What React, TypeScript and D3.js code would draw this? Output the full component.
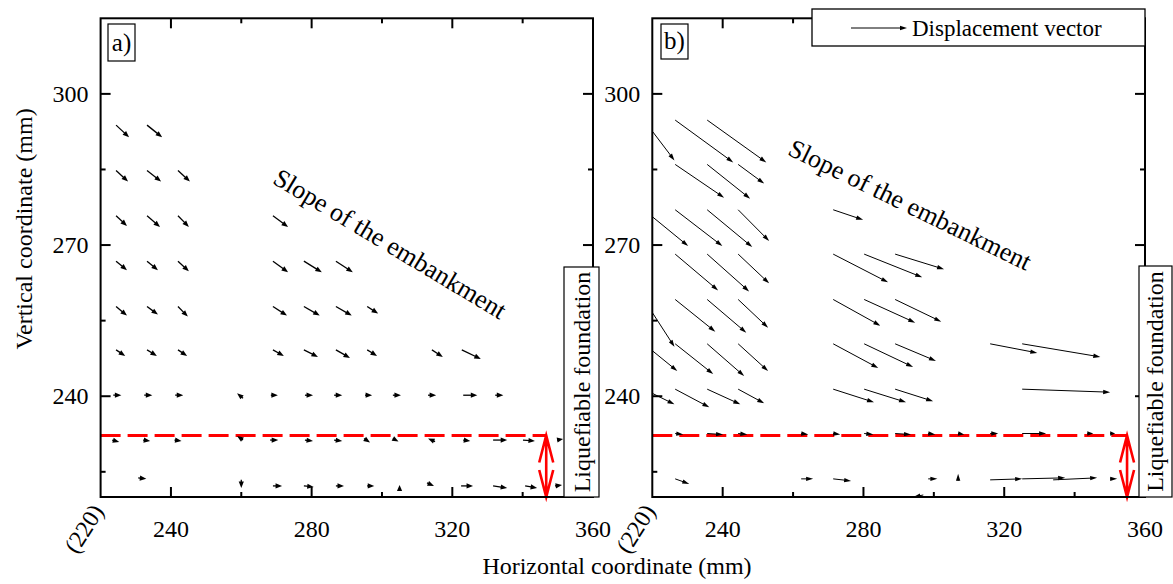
import React from "react";
import * as d3 from "d3";

type Vec = [number, number, number, number]; // tail x (mm), tail y (mm), dx (mm), dy (mm)

const X_DOMAIN: [number, number] = [220, 360];
const Y_DOMAIN: [number, number] = [220, 315];
const xMajorTicks = [240, 280, 320, 360];
const xMinorTicks = [260, 300, 340];
const yMajorTicks = [240, 270, 300];
const yMinorTicks = [225, 255, 285];
const foundationLevel = 232.2;

// Panel a) displacement vectors
const vectorsA: Vec[] = [
  [224.4, 293.8, 3.7, -2.4], [233.2, 293.8, 4.3, -2.4],
  [224.4, 284.8, 3.4, -2.2], [233.2, 284.8, 4.0, -2.2], [242.0, 284.8, 3.4, -2.2],
  [224.4, 275.8, 3.1, -2.0], [233.2, 275.8, 3.7, -2.2], [242.0, 275.8, 3.1, -2.2], [269.0, 275.8, 4.3, -2.2],
  [224.4, 266.8, 3.1, -1.8], [233.2, 266.8, 3.1, -1.8], [242.0, 266.8, 3.1, -2.0], [269.0, 266.8, 4.3, -2.2], [277.8, 266.8, 5.1, -2.2], [286.9, 266.8, 4.8, -2.2],
  [224.4, 257.8, 3.1, -1.8], [233.2, 257.8, 3.1, -1.6], [242.0, 257.8, 2.8, -2.0], [269.0, 257.8, 4.0, -1.8], [277.8, 257.8, 4.5, -1.8], [286.9, 257.8, 4.5, -1.8], [295.8, 257.8, 3.1, -1.4],
  [224.4, 249.2, 2.6, -1.2], [233.2, 249.2, 2.8, -1.2], [242.0, 249.2, 2.6, -1.2], [269.0, 249.2, 3.1, -1.2], [277.8, 249.2, 4.0, -1.4], [286.9, 249.2, 4.0, -1.6], [295.8, 249.2, 2.8, -1.2], [314.2, 249.2, 3.1, -1.4], [322.7, 249.2, 5.4, -1.8],
  [223.6, 240.2, 2.3, 0], [232.4, 240.2, 2.3, 0], [241.2, 240.2, 2.3, 0], [260.5, 239.6, -1.7, 1.0], [268.4, 240.2, 2.0, 0], [278.1, 240.2, 2.3, 0], [286.4, 240.2, 2.3, 0], [295.2, 240.2, 2.0, 0], [303.1, 240.2, 2.3, 0], [313.1, 240.2, 2.3, 0], [323.1, 240.2, 4.0, 0], [332.2, 240.2, 2.3, 0],
  [223.3, 231.3, 2.0, -0.4], [232.1, 231.3, 2.0, -0.2], [241.0, 231.3, 2.0, -0.2], [260.5, 231.3, -1.7, 0.8], [268.2, 231.3, 2.3, 0], [278.1, 231.3, 2.3, -0.2], [286.4, 231.3, 2.3, -0.2], [294.9, 231.6, 1.7, -0.8], [303.1, 231.6, 1.6, -0.6], [315.1, 231.0, -2.0, 0.6], [323.1, 231.3, 2.0, -0.2], [331.6, 231.3, 4.0, 0], [340.1, 231.3, 3.4, -0.2], [349.8, 231.3, 1.7, 0.2],
  [230.7, 223.8, 2.3, -0.2], [260.0, 223.4, 0, -1.6], [269.0, 222.2, 2.6, 0], [277.8, 222.2, 2.8, -0.2], [286.9, 222.2, 2.3, 0], [295.8, 222.2, 2.0, 0], [305.0, 221.2, 0, 1.2], [312.8, 222.8, 2.0, -0.6], [322.5, 222.2, 3.4, 0], [331.6, 222.2, 4.0, -0.4], [340.7, 222.2, 3.4, -0.4], [349.2, 222.2, 2.0, 0.2],
];

// Panel b) displacement vectors
const vectorsB: Vec[] = [
  [217.6, 294.8, 8.7, -8.0], [226.5, 294.8, 16.5, -8.4], [235.6, 294.8, 16.8, -8.4],
  [226.5, 286.0, 13.9, -6.6], [235.6, 286.0, 12.2, -6.8], [244.4, 286.0, 7.4, -3.8],
  [217.6, 277.0, 12.6, -7.2], [226.5, 277.0, 13.4, -7.2], [235.6, 277.0, 12.8, -7.4], [244.4, 277.0, 8.8, -6.2], [271.4, 277.0, 8.5, -2.0],
  [226.5, 268.2, 12.2, -7.2], [235.6, 268.2, 11.9, -7.4], [244.4, 268.2, 8.8, -5.8], [271.4, 268.2, 15.6, -5.6], [280.2, 268.2, 16.5, -4.6], [289.0, 268.2, 13.9, -3.0],
  [217.6, 259.2, 8.7, -9.4], [226.5, 259.2, 11.4, -6.4], [235.6, 259.2, 11.1, -6.6], [244.4, 259.2, 8.5, -5.6], [271.4, 259.2, 13.4, -5.2], [280.2, 259.2, 14.5, -4.6], [289.0, 259.2, 13.1, -4.4],
  [217.6, 250.4, 9.5, -5.4], [226.5, 250.4, 10.8, -6.0], [235.6, 250.4, 10.5, -6.4], [244.4, 250.4, 8.5, -5.4], [271.4, 250.4, 12.8, -4.8], [280.2, 250.4, 13.9, -4.6], [289.0, 250.4, 11.6, -3.4], [316.0, 250.4, 13.4, -1.8], [325.1, 250.4, 22.2, -2.6],
  [217.6, 241.4, 8.7, -3.0], [226.5, 241.4, 9.7, -3.6], [235.6, 241.4, 9.4, -3.0], [244.4, 241.4, 7.4, -2.8], [271.4, 241.4, 11.6, -2.6], [280.2, 241.4, 11.9, -2.6], [289.0, 241.4, 10.8, -2.4], [325.1, 241.4, 25.0, -0.6],
  [226.5, 232.6, 2.3, -0.2], [235.6, 232.6, 4.5, -0.2], [244.4, 232.6, 2.6, -0.2], [262.3, 232.6, 2.0, -0.2], [271.4, 232.6, 2.0, -0.2], [280.2, 232.6, 2.6, -0.2], [289.0, 232.6, 4.5, -0.2], [298.4, 232.6, 2.0, -0.2], [306.9, 232.6, 1.7, -0.2], [316.0, 232.6, 2.3, 0], [325.1, 232.6, 6.8, 0], [343.6, 232.6, 1.7, 0], [350.1, 232.6, 1.4, 0],
  [226.5, 223.6, 4.0, -1.0], [262.3, 223.6, 3.4, 0], [271.4, 223.6, 5.1, -0.4], [298.4, 223.6, 2.6, 0], [306.9, 223.2, 0, 1.4], [316.0, 223.4, 9.1, 0.2], [325.1, 223.6, 12.2, 0.2], [333.9, 223.4, 12.5, 0.4], [350.1, 223.6, 2.0, 0], [297.0, 220.4, -2.8, -0.4],
];

const FONT = "'Liberation Serif', 'Times New Roman', Times, serif";
const TOP = 18.3;
const BOTTOM = 497;

function arrowParts(x0: number, y0: number, x1: number, y1: number, headLen: number, headHalf: number) {
  const dx = x1 - x0;
  const dy = y1 - y0;
  const L = Math.hypot(dx, dy) || 1;
  const ux = dx / L;
  const uy = dy / L;
  const hl = Math.min(headLen, L);
  const bx = x1 - ux * hl;
  const by = y1 - uy * hl;
  const nx = -uy;
  const ny = ux;
  const head = `M${x1},${y1}L${bx + nx * headHalf},${by + ny * headHalf}L${bx - nx * headHalf},${by - ny * headHalf}Z`;
  return { lineEnd: [bx + ux * hl * 0.3, by + uy * hl * 0.3], head };
}

type PanelProps = {
  id: string;
  left: number;
  right: number;
  vectors: Vec[];
  label: string;
  labelBox: [number, number, number, number];
  arrowMm: number;
  foundationBox: [number, number, number, number];
  slope: { cx: number; cy: number; angle: number };
  headLen: number;
  headHalf: number;
  stroke: number;
};

function Panel(p: PanelProps) {
  const x = d3.scaleLinear().domain(X_DOMAIN).range([p.left, p.right]);
  const y = d3.scaleLinear().domain(Y_DOMAIN).range([BOTTOM, TOP]);
  const yF = y(foundationLevel);
  const ax = x(p.arrowMm);
  const clipId = `clip-${p.id}`;
  const [bx, by, bw, bh] = p.labelBox;
  const [fx, fy, fw, fh] = p.foundationBox;
  return (
    <g>
      <defs>
        <clipPath id={clipId}>
          <rect x={p.left} y={TOP} width={p.right - p.left} height={BOTTOM - TOP} />
        </clipPath>
      </defs>
      {/* red dashed foundation line */}
      <line x1={p.left} x2={ax} y1={yF} y2={yF} stroke="#ff0000" strokeWidth={3} strokeDasharray="20,7" />
      {/* vectors */}
      <g clipPath={`url(#${clipId})`}>
        {p.vectors.map((v, i) => {
          const x0 = x(v[0]);
          const y0 = y(v[1]);
          const x1 = x(v[0] + v[2]);
          const y1 = y(v[1] + v[3]);
          const a = arrowParts(x0, y0, x1, y1, p.headLen, p.headHalf);
          return (
            <g key={i}>
              <line x1={x0} y1={y0} x2={a.lineEnd[0]} y2={a.lineEnd[1]} stroke="#000" strokeWidth={p.stroke} />
              <path d={a.head} fill="#000" />
            </g>
          );
        })}
      </g>
      {/* red double arrow */}
      <path
        d={`M${ax},${yF}L${ax},${BOTTOM}M${ax - 7},${yF + 27}L${ax},${yF}L${ax + 7},${yF + 27}M${ax - 7},${BOTTOM - 27}L${ax},${BOTTOM}L${ax + 7},${BOTTOM - 27}`}
        stroke="#ff0000"
        strokeWidth={2.6}
        fill="none"
      />
      {/* frame */}
      <rect x={p.left} y={TOP} width={p.right - p.left} height={BOTTOM - TOP} fill="none" stroke="#000" strokeWidth={2} />
      {/* ticks */}
      {xMajorTicks.concat(xMinorTicks).map((t) => {
        const len = xMajorTicks.includes(t) ? 10 : 5;
        return (
          <g key={`xt${t}`}>
            <line x1={x(t)} x2={x(t)} y1={BOTTOM} y2={BOTTOM - len} stroke="#000" strokeWidth={2} />
            <line x1={x(t)} x2={x(t)} y1={TOP} y2={TOP + len} stroke="#000" strokeWidth={2} />
          </g>
        );
      })}
      {yMajorTicks.concat(yMinorTicks).map((t) => {
        const len = yMajorTicks.includes(t) ? 10 : 5;
        return (
          <g key={`yt${t}`}>
            <line x1={p.left} x2={p.left + len} y1={y(t)} y2={y(t)} stroke="#000" strokeWidth={2} />
            <line x1={p.right} x2={p.right - len} y1={y(t)} y2={y(t)} stroke="#000" strokeWidth={2} />
          </g>
        );
      })}
      {/* tick labels */}
      {xMajorTicks.map((t) => (
        <text key={`xl${t}`} x={x(t)} y={537} textAnchor="middle" fontSize={24} fontFamily={FONT}>
          {t}
        </text>
      ))}
      <text
        transform={`translate(${x(220) + 4},${BOTTOM + 14}) rotate(-58)`}
        textAnchor="end"
        fontSize={24}
        fontFamily={FONT}
      >
        (220)
      </text>
      {yMajorTicks.map((t) => (
        <text key={`yl${t}`} x={p.left - 12} y={y(t) + 8} textAnchor="end" fontSize={24} fontFamily={FONT}>
          {t}
        </text>
      ))}
      {/* panel label */}
      <rect x={bx} y={by} width={bw} height={bh} fill="#fff" stroke="#000" strokeWidth={1.2} />
      <text x={bx + bw / 2} y={by + bh - 10} textAnchor="middle" fontSize={25} fontFamily={FONT}>
        {p.label}
      </text>
      {/* slope annotation */}
      <text
        transform={`translate(${p.slope.cx},${p.slope.cy}) rotate(${p.slope.angle})`}
        textAnchor="middle"
        dominantBaseline="central"
        fontSize={26}
        fontFamily={FONT}
      >
        Slope of the embankment
      </text>
      {/* liquefiable foundation box */}
      <rect x={fx} y={fy} width={fw} height={fh} fill="#fff" stroke="#000" strokeWidth={1.2} />
      <text
        transform={`translate(${fx + fw - 9},${fy + fh / 2}) rotate(-90)`}
        textAnchor="middle"
        fontSize={24}
        fontFamily={FONT}
      >
        Liquefiable foundation
      </text>
    </g>
  );
}

export default function App() {
  return (
    <svg
      width={1173}
      height={584}
      style={{ position: "absolute", left: 0, top: 0, background: "#fff" }}
    >
      <rect x={0} y={0} width={1173} height={584} fill="#fff" />
      <Panel
        id="a"
        left={100.6}
        right={593}
        vectors={vectorsA}
        label="a)"
        labelBox={[108, 24, 27, 37]}
        arrowMm={346.7}
        foundationBox={[564, 267, 35, 230]}
        slope={{ cx: 390, cy: 244, angle: 31 }}
        headLen={6.5}
        headHalf={2.6}
        stroke={1.3}
      />
      <Panel
        id="b"
        left={652.3}
        right={1145}
        vectors={vectorsB}
        label="b)"
        labelBox={[661, 24, 27, 35]}
        arrowMm={354.9}
        foundationBox={[1139, 266, 33, 231]}
        slope={{ cx: 910, cy: 205, angle: 26 }}
        headLen={7}
        headHalf={2.2}
        stroke={1}
      />
      {/* legend */}
      <rect x={812} y={9} width={333} height={37} fill="#fff" stroke="#000" strokeWidth={1.3} />
      {(() => {
        const a = arrowParts(851, 28, 907, 28, 7, 2.2);
        return (
          <g>
            <line x1={851} y1={28} x2={a.lineEnd[0]} y2={a.lineEnd[1]} stroke="#000" strokeWidth={1} />
            <path d={a.head} fill="#000" />
          </g>
        );
      })()}
      <text x={912} y={36} fontSize={23} fontFamily={FONT}>
        Displacement vector
      </text>
      {/* axis titles */}
      <text transform="translate(32,229) rotate(-90)" textAnchor="middle" fontSize={24} fontFamily={FONT}>
        Vertical coordinate (mm)
      </text>
      <text x={617} y={574} textAnchor="middle" fontSize={24} fontFamily={FONT}>
        Horizontal coordinate (mm)
      </text>
    </svg>
  );
}
